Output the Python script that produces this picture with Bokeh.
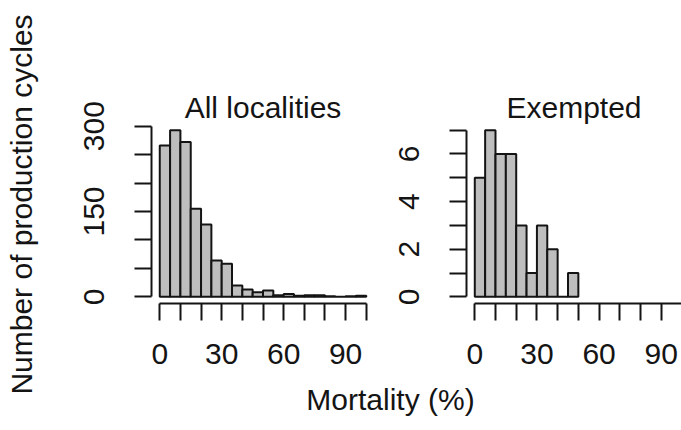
import math

from bokeh.plotting import figure
from bokeh.models import Range1d, FixedTicker, Label
from bokeh.layouts import row, column
from bokeh.embed import file_html
from bokeh.resources import INLINE

# Histogram bins (% mortality) and counts of production cycles per bin
bin_edges = [0, 5, 10, 15, 20, 25, 30, 35, 40, 45, 50,
             55, 60, 65, 70, 75, 80, 85, 90, 95, 100]
all_counts = [266, 293, 272, 155, 127, 64, 58, 20, 13, 8,
              11, 3, 5, 2, 3, 3, 1, 0, 1, 2]
exempt_counts = [5, 7, 6, 6, 3, 1, 3, 2, 0, 1]

# Axis ticks and which of them carry a label
x_ticks = [0, 10, 20, 30, 40, 50, 60, 70, 80, 90, 100]
x_labeled = [0, 30, 60, 90]
all_y_ticks = [0, 50, 100, 150, 200, 250, 300]
all_y_labeled = [0, 150, 300]
exempt_y_ticks = [0, 1, 2, 3, 4, 5, 6, 7]
exempt_y_labeled = [0, 2, 4, 6]

panel_titles = ["All localities", "Exempted"]
y_title = "Number of production cycles"
x_title = "Mortality (%)"

FONT = "Liberation Sans"
INK = "#141414"
BAR_FILL = "#bebebe"
TEXT_SIZE = "30px"

W, H = 681, 430
STRIP_W = 40          # left strip holding the shared y title
FRAME_TOP = 123
FRAME_H = 180
BOTTOM = 78


def overrides(ticks, labeled):
    return {t: (str(t) if t in labeled else "") for t in ticks}


def panel(counts, y_ticks, y_labeled, title, x_end, left, frame_w, right):
    ymax = max(counts)
    x_start = -4
    p = figure(title=title, frame_width=frame_w, frame_height=FRAME_H,
               x_range=Range1d(x_start, x_end),
               y_range=Range1d(-0.04 * ymax, 1.04 * ymax),
               min_border_left=left, min_border_right=right,
               min_border_top=FRAME_TOP, min_border_bottom=BOTTOM,
               toolbar_location=None, output_backend="svg")
    p.outline_line_color = None
    p.xgrid.visible = False
    p.ygrid.visible = False

    n = len(counts)
    p.quad(left=bin_edges[:n], right=bin_edges[1:n + 1], bottom=0, top=counts,
           fill_color=BAR_FILL, line_color=INK, line_width=2)

    p.xaxis.ticker = FixedTicker(ticks=x_ticks)
    p.xaxis.major_label_overrides = overrides(x_ticks, x_labeled)
    p.xaxis.bounds = (x_ticks[0], x_ticks[-1])
    p.xaxis.major_label_standoff = 23
    p.yaxis.ticker = FixedTicker(ticks=y_ticks)
    p.yaxis.major_label_overrides = overrides(y_ticks, y_labeled)
    p.yaxis.bounds = (y_ticks[0], y_ticks[-1])
    p.yaxis.major_label_orientation = "vertical"
    p.yaxis.major_label_standoff = 30

    for ax in (p.xaxis[0], p.yaxis[0]):
        ax.axis_line_color = INK
        ax.axis_line_width = 2
        ax.major_tick_line_color = INK
        ax.major_tick_line_width = 2
        ax.major_tick_out = 17
        ax.major_tick_in = 0
        ax.minor_tick_line_color = None
        ax.major_label_text_font = FONT
        ax.major_label_text_font_size = TEXT_SIZE
        ax.major_label_text_color = INK

    # title centred over x = 50 (middle of the 0-100 axis)
    px_per_unit = frame_w / (x_end - x_start)
    p.title.align = "center"
    p.title.offset = (50 - (x_start + x_end) / 2) * px_per_unit
    p.title.standoff = 0
    p.title.text_font = FONT
    p.title.text_font_size = TEXT_SIZE
    p.title.text_font_style = "normal"
    p.title.text_color = INK
    return p


p1 = panel(all_counts, all_y_ticks, all_y_labeled, panel_titles[0], 104, 111, 223, 6)
p2 = panel(exempt_counts, exempt_y_ticks, exempt_y_labeled, panel_titles[1], 99.8, 86, 215, 0)


def text_strip(width, height):
    s = figure(width=width, height=height, min_border=0,
               x_range=Range1d(0, 1), y_range=Range1d(0, 1),
               x_axis_location=None, y_axis_location=None,
               toolbar_location=None, output_backend="svg")
    s.outline_line_color = None
    s.xgrid.visible = False
    s.ygrid.visible = False
    return s


# Shared y title on the left
p0 = text_strip(STRIP_W, H)
p0.add_layout(Label(x=21, y=H - 204, x_units="screen", y_units="screen",
                    angle=math.pi / 2, text=y_title, text_font=FONT,
                    text_font_size=TEXT_SIZE, text_color=INK,
                    text_align="center", text_baseline="alphabetic"))

# Shared x title below both panels
strip_h = H - (FRAME_TOP + FRAME_H + BOTTOM)
p3 = text_strip(W - STRIP_W, strip_h)
p3.add_layout(Label(x=390 - STRIP_W, y=H - 409 + 10, x_units="screen", y_units="screen",
                    text=x_title, text_font=FONT, text_font_size=TEXT_SIZE,
                    text_color=INK, text_align="center", text_baseline="alphabetic"))

layout = row(p0, column(row(p1, p2), p3))
open("out.html", "w").write(file_html(layout, INLINE))
